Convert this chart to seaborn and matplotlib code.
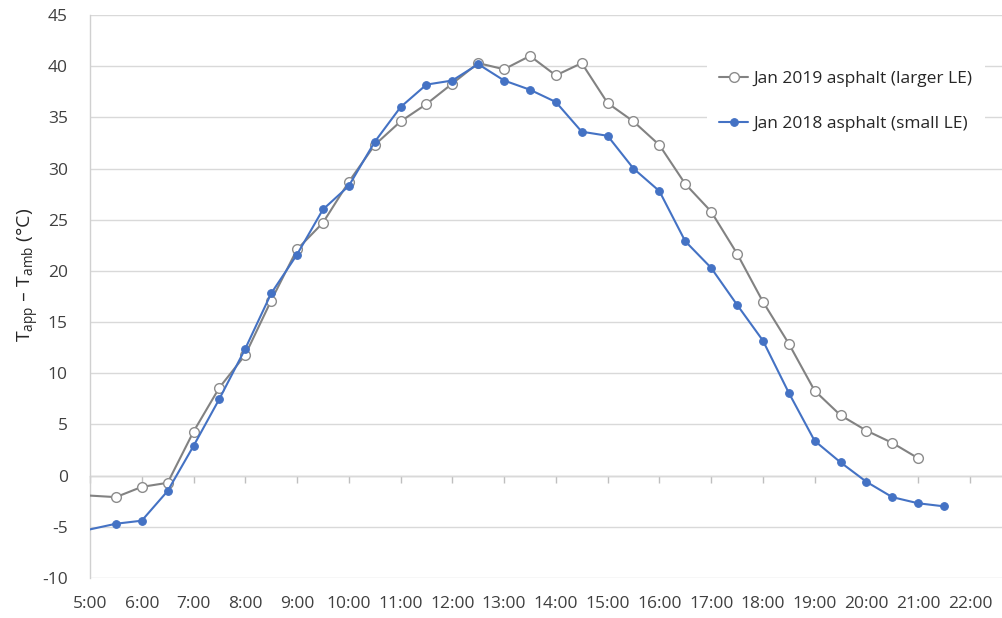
import seaborn as sns
import matplotlib.pyplot as plt
import pandas as pd

# time of day (hours); 4.5 lies left of the axis and is clipped
hours_2019 = [4.5, 5.5, 6.0, 6.5, 7.0, 7.5, 8.0, 8.5, 9.0, 9.5, 10.0, 10.5, 11.0,
              11.5, 12.0, 12.5, 13.0, 13.5, 14.0, 14.5, 15.0, 15.5, 16.0, 16.5,
              17.0, 17.5, 18.0, 18.5, 19.0, 19.5, 20.0, 20.5, 21.0]
temp_2019 = [-1.8, -2.1, -1.1, -0.7, 4.3, 8.6, 11.8, 17.1, 22.1, 24.7, 28.7, 32.3, 34.6,
             36.3, 38.3, 40.3, 39.7, 41.0, 39.1, 40.3, 36.4, 34.6, 32.3, 28.5,
             25.8, 21.7, 17.0, 12.9, 8.3, 5.9, 4.4, 3.2, 1.7]

hours_2018 = [4.5, 5.5, 6.0, 6.5, 7.0, 7.5, 8.0, 8.5, 9.0, 9.5, 10.0, 10.5, 11.0,
              11.5, 12.0, 12.5, 13.0, 13.5, 14.0, 14.5, 15.0, 15.5, 16.0, 16.5,
              17.0, 17.5, 18.0, 18.5, 19.0, 19.5, 20.0, 20.5, 21.0, 21.5]
temp_2018 = [-5.8, -4.7, -4.4, -1.5, 2.9, 7.5, 12.4, 17.8, 21.6, 26.0, 28.3, 32.6, 36.0,
             38.2, 38.6, 40.2, 38.6, 37.7, 36.5, 33.6, 33.2, 30.0, 27.8, 22.9,
             20.3, 16.7, 13.2, 8.1, 3.4, 1.3, -0.6, -2.1, -2.7, -3.0]

label_2019 = "Jan 2019 asphalt (larger LE)"
label_2018 = "Jan 2018 asphalt (small LE)"

x_ticks = list(range(5, 23))
x_ticklabels = [f"{h}:00" for h in x_ticks]
y_ticks = list(range(-10, 50, 5))

df19 = pd.DataFrame({"hour": hours_2019, "dT": temp_2019})
df18 = pd.DataFrame({"hour": hours_2018, "dT": temp_2018})

sns.set_theme(style="white")
plt.rcParams["font.family"] = ["Open Sans", "DejaVu Sans"]
plt.rcParams["axes.unicode_minus"] = False

fig = plt.figure(figsize=(10.02, 6.18), dpi=100)
ax = fig.add_axes([90 / 1002, 40 / 618, 912 / 1002, 563 / 618])

grey = "#828282"
blue = "#4472C4"

sns.lineplot(data=df19, x="hour", y="dT", ax=ax, color=grey, linewidth=1.5,
             marker="o", markersize=7, markerfacecolor="white",
             markeredgecolor="#8c8c8c", markeredgewidth=1.0, label=label_2019,
             zorder=3)
sns.lineplot(data=df18, x="hour", y="dT", ax=ax, color=blue, linewidth=1.5,
             marker="o", markersize=5.5, markeredgecolor=blue,
             markeredgewidth=0.8, label=label_2018, zorder=4)

ymin, ymax = -10, 45
ax.set_xlim(5, 22.62)
ax.set_ylim(ymin, ymax)
ax.set_xticks(x_ticks)
ax.set_xticklabels(x_ticklabels)
ax.set_yticks(y_ticks)
ax.grid(axis="y", color="#d9d9d9", linewidth=1.0)
ax.grid(axis="x", visible=False)

for side in ["top", "right", "bottom"]:
    ax.spines[side].set_visible(False)
ax.spines["left"].set_color("#d0d0d0")
ax.spines["left"].set_linewidth(1.0)

ax.tick_params(axis="x", length=0, pad=13, labelsize=12.5, labelcolor="#404040")
ax.tick_params(axis="y", length=0, pad=16, labelsize=12.5, labelcolor="#404040")

# x axis line with tick marks drawn at zero
zero_axis = ax.secondary_xaxis((0 - ymin) / (ymax - ymin))
zero_axis.set_xticks(x_ticks)
zero_axis.tick_params(direction="out", length=5, width=1.0, color="#bfbfbf",
                      labelbottom=False)
zero_axis.spines["bottom"].set_color("#bfbfbf")
zero_axis.spines["bottom"].set_linewidth(1.0)

ax.set_xlabel("")
ax.set_ylabel(r"T$\mathregular{_{app}}$ – T$\mathregular{_{amb}}$ (°C)",
              fontsize=14, color="#262626")
ax.yaxis.set_label_coords(-0.054, 0.538)

leg = ax.legend(loc="upper left", bbox_to_anchor=(698 / 1002, 1 - 50 / 618),
                bbox_transform=fig.transFigure, frameon=True, fancybox=False,
                framealpha=1, facecolor="white", edgecolor="none",
                fontsize=12.5, handlelength=1.7, handletextpad=0.3,
                labelspacing=1.65, borderpad=0.7)
for t in leg.get_texts():
    t.set_color("#262626")

fig.savefig("out.png", dpi=100)
